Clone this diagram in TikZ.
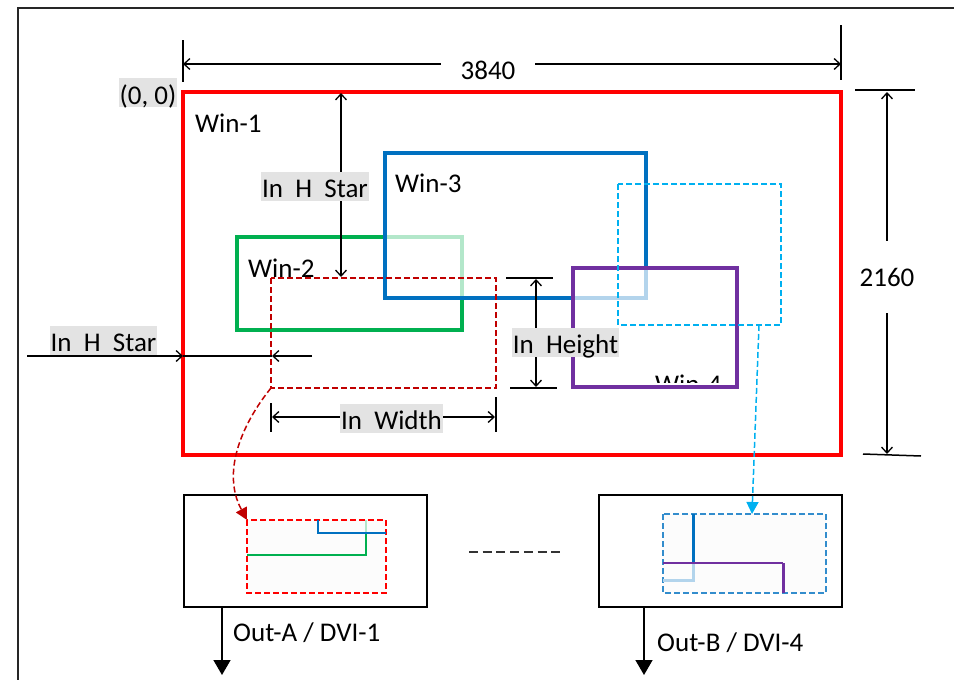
\documentclass[tikz,border=0pt]{standalone}
\usepackage{fontspec}
\setmainfont{Carlito}
\usepackage{xcolor}
\usepackage{tikz}
\usetikzlibrary{arrows.meta}
\definecolor{winred}{RGB}{255,0,0}
\definecolor{wingreen}{RGB}{0,176,80}
\definecolor{winblue}{RGB}{0,112,192}
\definecolor{winpurple}{RGB}{112,48,160}
\definecolor{cropred}{RGB}{192,0,0}
\definecolor{cropcyan}{RGB}{0,176,240}
\definecolor{tagbg}{RGB}{227,227,227}

\begin{document}
\begin{tikzpicture}[x=1pt, y=-1pt, >={Straight Barb[length=6pt,width=11pt]},
  font=\fontsize{27}{32}\selectfont,
  winbox/.style={line width=4pt, fill=white, fill opacity=0.7},
  cropline/.style={line width=1.5pt, dash pattern=on 6pt off 3pt},
  tag/.style={fill=tagbg, inner sep=1pt, text height=25pt, text depth=2pt},
  lbl/.style={inner sep=0pt, anchor=west},
  dimtick/.style={line width=2.5pt},
  dimline/.style={line width=1.3pt, <->},
  outbox/.style={draw, line width=1.8pt, minimum width=243pt, minimum height=112pt, inner sep=0pt},
  outarrow/.style={line width=1.5pt, -{Triangle[length=15pt,width=17pt]}}]
  \useasboundingbox (0,0) rectangle (954,680);
  \draw[line width=2pt, black!85] (18,680) -- (18,8) -- (954,8);

  % windows on the 3840 x 2160 canvas
  \draw[line width=4pt, winred] (183,92) rectangle (841,455);
  \draw[winbox, draw=wingreen] (237,237) rectangle (462,330);
  \draw[winbox, draw=winblue] (385,153) rectangle (646,298);
  \draw[winbox, draw=winpurple] (573,268) rectangle (737,387);
  \begin{scope}
    \clip (575,270) rectangle (735,382);
    \node[lbl] (win4) at (655,384) {Win-4};
  \end{scope}
  \node[lbl] (win1) at (195,123) {Win-1};
  \node[lbl] (win2) at (248,268) {Win-2};
  \node[lbl] (win3) at (395,183) {Win-3};

  \draw[cropline, cropred] (271,278) rectangle (496,388);
  \draw[cropline, cropcyan] (618,184) rectangle (781,325);

  % 3840
  \coordinate (wl) at (183,64);
  \coordinate (wr) at (841,64);
  \draw[dimtick] (183,40) -- (183,82);
  \draw[dimtick] (841,25) -- (841,80);
  \draw[dimline] (wl) -- (wr);
  \node[fill=white, inner xsep=20pt, inner ysep=1pt] (wtext) at (488,70) {3840};

  % 2160
  \coordinate (ht) at (887,92);
  \coordinate (hb) at (887,454);
  \draw[dimtick] (855,90) -- (915,90);
  \draw[line width=1.5pt] (863,454) -- (921,456);
  \draw[dimline] (ht) -- (hb);
  \node[fill=white, inner xsep=1pt, minimum height=72pt] (htext) at (887,277) {2160};

  % In H Star (vertical)
  \coordinate (vs1) at (341,93);
  \coordinate (vs2) at (341,277);
  \draw[dimline] (vs1) -- (vs2);
  \node[tag] (vstar) at (315,186) {In\ \ H\ \ Star};

  % In H Star (horizontal)
  \coordinate (hs0) at (27,356);
  \coordinate (hs1) at (183,356);
  \coordinate (hs2) at (272,356);
  \coordinate (hs3) at (312,356);
  \draw[line width=1.3pt, ->] (hs0) -- (hs1);
  \draw[line width=2.5pt] (hs1) -- (hs2);
  \draw[line width=1.3pt, ->] (hs3) -- (hs2);
  \node[tag] (hstar) at (103.5,340) {In\ \ H\ \ Star};

  % In Width
  \coordinate (iw1) at (272,417);
  \coordinate (iw2) at (495,417);
  \draw[dimtick] (271,403) -- (271,432);
  \draw[dimtick] (496,397) -- (496,432);
  \draw[dimline] (iw1) -- (iw2);
  \node[tag] (width) at (391.5,418) {In\ \ Width};

  % In Height
  \coordinate (ih1) at (536,279);
  \coordinate (ih2) at (536,387);
  \draw[dimtick] (506,278) -- (553,278);
  \draw[dimtick] (510,388) -- (557,388);
  \draw[dimline] (ih1) -- (ih2);
  \node[tag] (height) at (565.5,342) {In\ \ Height};

  \node[tag] (origin) at (148,92.5) {(0, 0)};

  % outputs
  \node[outbox] (outA) at (305.5,551) {};
  \node[outbox] (outB) at (720.5,551) {};

  \draw[cropline, winred, fill=black!1] (247,520) rectangle (386,593);
  \draw[line width=2pt, wingreen] (247,555) -- (366,555) -- (366,533);
  \draw[line width=2pt, wingreen!30] (366,533) -- (366,520);
  \draw[line width=2pt, winblue] (318,520) -- (318,533) -- (386,533);

  \draw[cropline, winblue!80, fill=black!1] (663,514) rectangle (826,593);
  \draw[line width=3pt, winblue] (693,514) -- (693,563);
  \draw[line width=3pt, winblue!30] (693,563) -- (693,580) -- (663,580);
  \draw[line width=2pt, winpurple] (663,563) -- (783,563);
  \draw[line width=3pt, winpurple] (783,563) -- (783,593);

  \coordinate (cropA) at (247,520);
  \coordinate (cropB) at (752,514);
  \draw[cropline, cropred, -{Triangle[length=12pt,width=12pt]}] (271,388) .. controls (245,420) and (220,470) .. (cropA);
  \draw[cropline, cropcyan, -{Triangle[length=12pt,width=12pt]}] (759,325) -- (cropB);

  \draw[line width=2pt, black!80, dash pattern=on 9pt off 4.7pt] (469,552) -- (562,552);

  \coordinate (endA) at (222,675);
  \coordinate (endB) at (644,675);
  \draw[outarrow] (outA.south -| endA) -- (endA);
  \draw[outarrow] (outB.south -| endB) -- (endB);
  \node[lbl] (labA) at (233,633) {Out-A / DVI-1};
  \node[lbl] (labB) at (657,643) {Out-B / DVI-4};
\end{tikzpicture}
\end{document}
